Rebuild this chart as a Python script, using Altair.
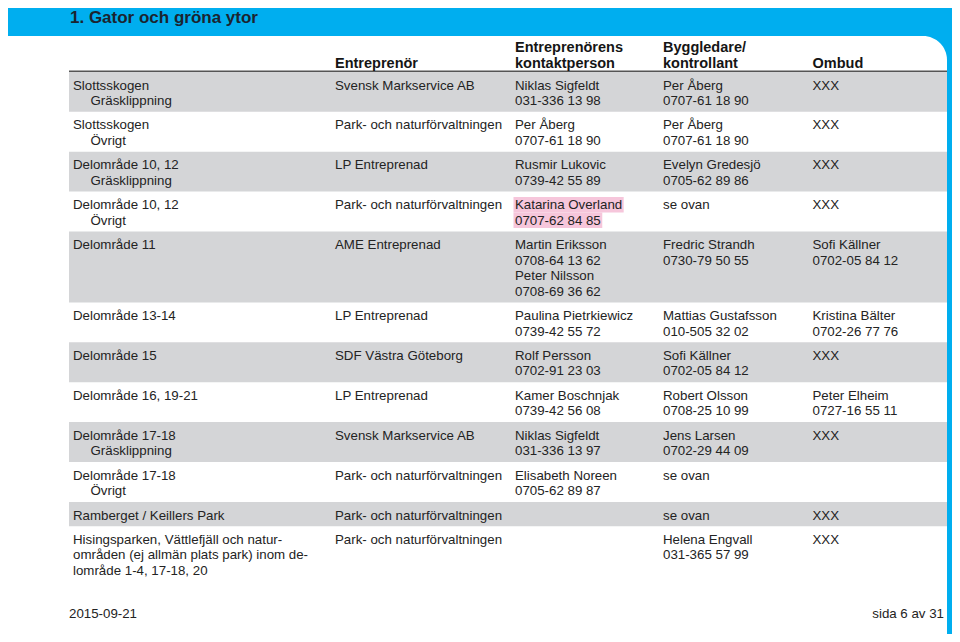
import altair as alt
import pandas as pd

# ---------------- data ----------------
title = "1. Gator och gröna ytor"

header_top = ["", "", "Entreprenörens", "Byggledare/", ""]
header_bottom = ["", "Entreprenör", "kontaktperson", "kontrollant", "Ombud"]

areas = [
    "Slottsskogen",
    "Slottsskogen",
    "Delområde 10, 12",
    "Delområde 10, 12",
    "Delområde 11",
    "Delområde 13-14",
    "Delområde 15",
    "Delområde 16, 19-21",
    "Delområde 17-18",
    "Delområde 17-18",
    "Ramberget / Keillers Park",
    "Hisingsparken, Vättlefjäll och natur-\nområden (ej allmän plats park) inom de-\nlområde 1-4, 17-18, 20",
]
subareas = [
    "Gräsklippning", "Övrigt", "Gräsklippning", "Övrigt", "", "", "", "",
    "Gräsklippning", "Övrigt", "", "",
]
contractors = [
    "Svensk Markservice AB",
    "Park- och naturförvaltningen",
    "LP Entreprenad",
    "Park- och naturförvaltningen",
    "AME Entreprenad",
    "LP Entreprenad",
    "SDF Västra Göteborg",
    "LP Entreprenad",
    "Svensk Markservice AB",
    "Park- och naturförvaltningen",
    "Park- och naturförvaltningen",
    "Park- och naturförvaltningen",
]
contacts = [
    "Niklas Sigfeldt\n031-336 13 98",
    "Per Åberg\n0707-61 18 90",
    "Rusmir Lukovic\n0739-42 55 89",
    "Katarina Overland\n0707-62 84 85",
    "Martin Eriksson\n0708-64 13 62\nPeter Nilsson\n0708-69 36 62",
    "Paulina Pietrkiewicz\n0739-42 55 72",
    "Rolf Persson\n0702-91 23 03",
    "Kamer Boschnjak\n0739-42 56 08",
    "Niklas Sigfeldt\n031-336 13 97",
    "Elisabeth Noreen\n0705-62 89 87",
    "",
    "",
]
supervisors = [
    "Per Åberg\n0707-61 18 90",
    "Per Åberg\n0707-61 18 90",
    "Evelyn Gredesjö\n0705-62 89 86",
    "se ovan",
    "Fredric Strandh\n0730-79 50 55",
    "Mattias Gustafsson\n010-505 32 02",
    "Sofi Källner\n0702-05 84 12",
    "Robert Olsson\n0708-25 10 99",
    "Jens Larsen\n0702-29 44 09",
    "se ovan",
    "se ovan",
    "Helena Engvall\n031-365 57 99",
]
ombud = [
    "XXX", "XXX", "XXX", "XXX",
    "Sofi Källner\n0702-05 84 12",
    "Kristina Bälter\n0702-26 77 76",
    "XXX",
    "Peter Elheim\n0727-16 55 11",
    "XXX",
    "",
    "XXX",
    "XXX",
]
highlighted_cells = [(3, 2)]  # (row, column) marked in pink
footer_date = "2015-09-21"
footer_page = "sida 6 av 31"

# ---------------- layout ----------------
FONT = "Liberation Sans"
W, H = 944, 626                 # drawing area (page minus 8px margin)
X0, X1 = 8, 8 + W               # page-pixel domain
Y0, Y1 = 8, 8 + H
XS = alt.Scale(domain=[X0, X1], range=[0, W], nice=False, zero=False)
YS = alt.Scale(domain=[Y0, Y1], range=[0, H], nice=False, zero=False)

BLUE = "#00aeef"
GRAY = "#d4d5d7"
PINK = "#f6c6db"
TEXT = "#232323"

col_x = [73, 335, 515, 663, 812.5]
sub_indent = 17.5
band_left, band_right = 69, X1 - 5
first_top, line_h, row_pad, first_base = 71.9, 15.5, 8.9, 17.6
body_size = 13.3

AW = {" ": 278, "-": 333, "/": 278, ",": 278, ".": 278, "(": 333, ")": 333}
for c in "0123456789":
    AW[c] = 556
AW.update(dict(zip("ABCDEFGHIJKLMNOPQRSTUVWXYZ",
                   [667, 667, 722, 722, 667, 611, 778, 722, 278, 500, 667, 556, 833,
                    722, 778, 667, 778, 722, 667, 611, 722, 667, 944, 667, 667, 611])))
AW.update(dict(zip("abcdefghijklmnopqrstuvwxyz",
                   [556, 556, 500, 556, 556, 278, 556, 556, 222, 222, 500, 222, 833,
                    556, 556, 556, 556, 333, 500, 278, 556, 500, 722, 500, 500, 500])))


def text_width(s, size):
    return sum(AW.get(ch, 556) for ch in s) / 1000.0 * size


columns = [areas, contractors, contacts, supervisors, ombud]
bands, body, marks = [], [], []
top = first_top
for r in range(len(areas)):
    cells = [columns[c][r].split("\n") if columns[c][r] else [] for c in range(5)]
    area_lines = cells[0] + ([subareas[r]] if subareas[r] else [])
    n = max(len(area_lines), *[len(c) for c in cells[1:]])
    height = n * line_h + row_pad
    if r % 2 == 0:
        bands.append({"x": band_left, "x2": band_right, "y": top, "y2": top + height})
    for i, t in enumerate(area_lines):
        indent = sub_indent if (subareas[r] and i == len(area_lines) - 1) else 0
        body.append({"x": col_x[0] + indent, "y": top + first_base + i * line_h, "text": t})
    for c in range(1, 5):
        for i, t in enumerate(cells[c]):
            base = top + first_base + i * line_h
            body.append({"x": col_x[c], "y": base, "text": t})
            if (r, c) in highlighted_cells:
                marks.append({"x": col_x[c] - 1.5,
                              "x2": col_x[c] + text_width(t, body_size) + 1.5,
                              "y": base - 12.3, "y2": base + 3.2})
    top += height

header_rows = []
for c in range(5):
    if header_top[c]:
        header_rows.append({"x": col_x[c], "y": 52.3, "text": header_top[c]})
    if header_bottom[c]:
        header_rows.append({"x": col_x[c], "y": 68.2, "text": header_bottom[c]})


def rects(df, color, **kw):
    return alt.Chart(pd.DataFrame(df)).mark_rect(color=color, **kw).encode(
        x=alt.X("x:Q", scale=XS, axis=None),
        x2="x2:Q",
        y=alt.Y("y:Q", scale=YS, axis=None),
        y2="y2:Q",
    )


def texts(df, **kw):
    return alt.Chart(pd.DataFrame(df)).mark_text(font=FONT, baseline="alphabetic", **kw).encode(
        x=alt.X("x:Q", scale=XS, axis=None),
        y=alt.Y("y:Q", scale=YS, axis=None),
        text="text:N",
    )


frame_blue = rects([{"x": X0, "x2": X1, "y": Y0, "y2": Y1}], BLUE)
frame_white = rects([{"x": X0, "x2": X1 - 5, "y": 36, "y2": Y1}], "white",
                    cornerRadiusTopRight=24)
title_band = rects([{"x": X0, "x2": X1, "y": Y0, "y2": 36}], BLUE)
band_layer = rects(bands, GRAY)
pink_layer = rects(marks, PINK)

header_rule = alt.Chart(pd.DataFrame([{"x": band_left, "x2": band_right, "y": 71.3}])).mark_rule(
    color="#555555", strokeWidth=1.4
).encode(
    x=alt.X("x:Q", scale=XS, axis=None),
    x2="x2:Q",
    y=alt.Y("y:Q", scale=YS, axis=None),
)

body_layer = texts(body, align="left", fontSize=body_size, color=TEXT)
header_layer = texts(header_rows, align="left", fontSize=14.5, fontWeight="bold", color="#151515")
title_layer = texts([{"x": 70, "y": 23.4, "text": title}], align="left", fontSize=17,
                    fontWeight="bold", color="#1b2430")
footer_left = texts([{"x": 69, "y": 617.5, "text": footer_date}], align="left",
                    fontSize=body_size, color=TEXT)
footer_right = texts([{"x": 944, "y": 617.5, "text": footer_page}], align="right",
                     fontSize=body_size, color=TEXT)

chart = alt.layer(
    frame_blue, title_band, frame_white, band_layer, pink_layer, header_rule,
    body_layer, header_layer, title_layer, footer_left, footer_right,
).properties(
    width=W, height=H, padding=0,
    autosize=alt.AutoSizeParams(type="none"),
).configure_view(stroke=None)

chart.save("out.html", embed_options={"renderer": "svg", "actions": False})
